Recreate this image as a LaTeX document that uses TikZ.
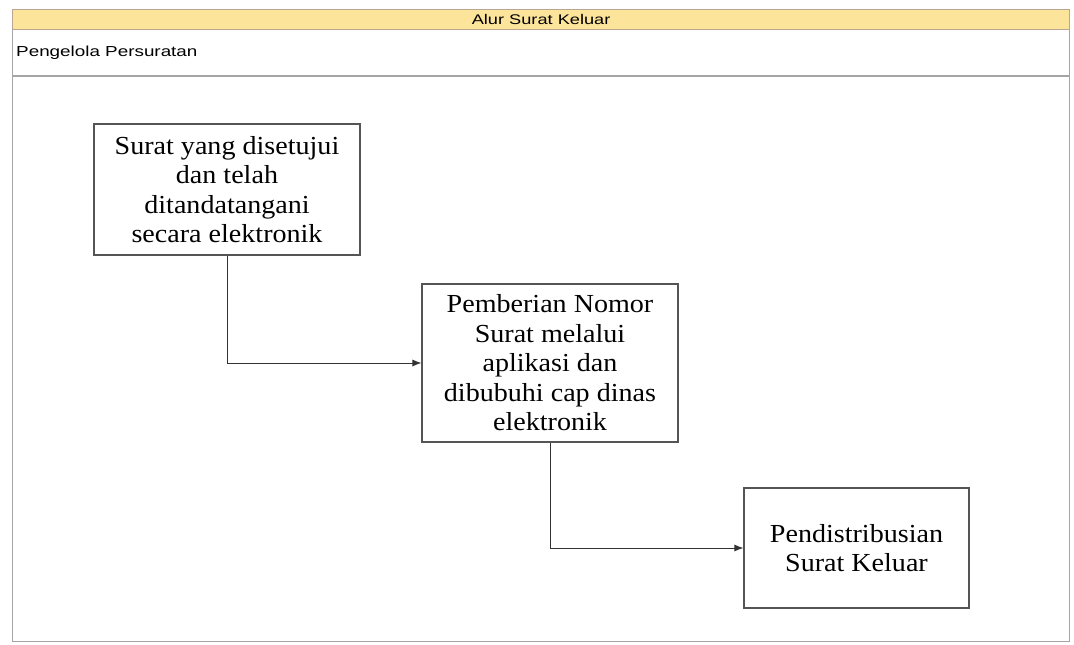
\documentclass[tikz,border=0pt]{standalone}
\usepackage{fontspec}
\setmainfont{Liberation Serif}[FakeStretch=1.08]
\newfontfamily\lanefont{Liberation Sans}[FakeStretch=1.3]
\usetikzlibrary{arrows.meta,positioning}
\definecolor{laneyellow}{RGB}{253,228,155}
\definecolor{barborder}{RGB}{185,165,145}
\definecolor{framegray}{RGB}{165,165,165}
\definecolor{boxgray}{RGB}{85,85,85}

\begin{document}
\begin{tikzpicture}[x=1pt,y=-1pt]
	\useasboundingbox (0,0) rectangle (1074,645);
	% pool and lane
	\draw[framegray,line width=1pt] (12,9) rectangle (1069,641);
	\node[draw=barborder,fill=laneyellow,line width=1.2pt,anchor=north west,inner sep=0pt,minimum width=1057pt,minimum height=20pt,font=\lanefont\fontsize{14}{16}\selectfont] (pool) at (12,9) {Alur Surat Keluar};
	\node[anchor=west,inner sep=4pt,font=\lanefont\fontsize{14.5}{16}\selectfont] (lane) at (12,53) {Pengelola Persuratan};
	\draw[framegray,line width=1.2pt] (12,76) -- (1069,76);

	\begin{scope}[every node/.style={rectangle,draw=boxgray,line width=1.1pt,align=center,font=\fontsize{26}{29.5}\selectfont}]
		\node[minimum width=266pt,minimum height=131pt] (approved) at (227,189.5) {Surat yang disetujui\\dan telah\\ditandatangani\\secara elektronik};
		\node[minimum width=256pt,minimum height=158pt] (numbering) at (550,363) {Pemberian Nomor\\Surat melalui\\aplikasi dan\\dibubuhi cap dinas\\elektronik};
		\node[minimum width=225pt,minimum height=120pt] (distribution) at (856.5,548) {Pendistribusian\\Surat Keluar};
	\end{scope}

	\begin{scope}[black!80,line width=0.9pt]
	\draw[-{Latex[length=9pt,width=7pt]}] (approved.south) |- (numbering.west);
	\draw[-{Latex[length=9pt,width=7pt]}] (numbering.south) |- (distribution.west);
	\end{scope}
\end{tikzpicture}
\end{document}
